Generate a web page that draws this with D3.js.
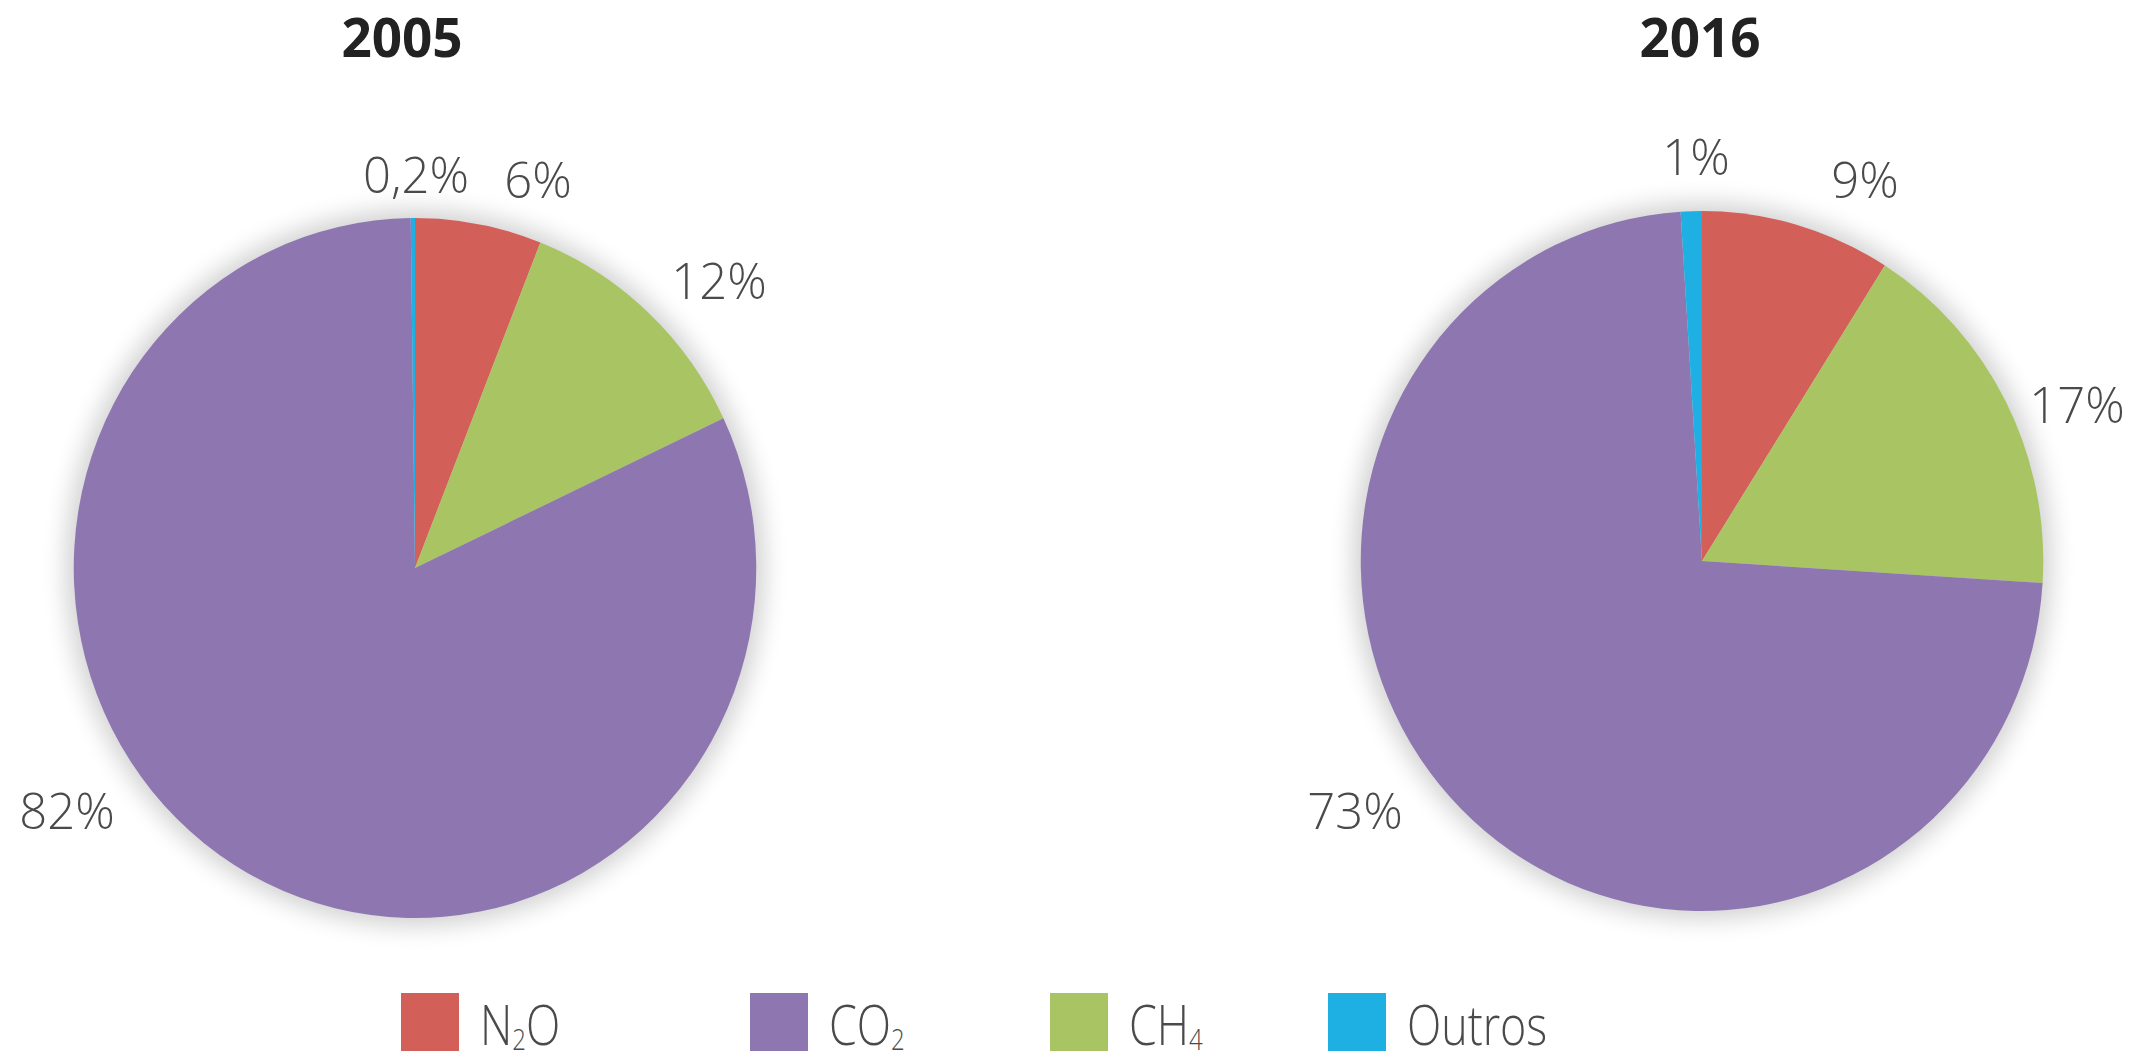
<!DOCTYPE html>
<html>
<head>
<meta charset="utf-8">
<script src="https://cdn.jsdelivr.net/npm/d3@7"></script>
<style>
  html, body { margin: 0; padding: 0; background: #ffffff; }
  svg { display: block; }
</style>
</head>
<body>
<svg id="chart" width="2153" height="1064"></svg>
<script>
// ---------- data ----------
const years = ["2005", "2016"];
const sliceOrder = ["N2O", "CH4", "CO2", "Outros"];       // clockwise from 12 o'clock
const values2005 = [6, 12, 82, 0.2];
const values2016 = [9, 17, 73, 1];
const legendOrder = ["N2O", "CO2", "CH4", "Outros"];
const legendMain = { N2O: ["N", "2", "O"], CO2: ["CO", "2", ""], CH4: ["CH", "4", ""], Outros: ["Outros", "", ""] };
const palette = ["#d35f59", "#a9c463", "#8e77b0", "#1fb0e3"];   // N2O, CH4, CO2, Outros

// ---------- layout ----------
const W = 2153, H = 1064;
const R = 350;
const squashX = 0.975;
const pieCenters = { "2005": [415, 568], "2016": [1702, 561] };
const titlePos = { "2005": [402, 57], "2016": [1700, 57] };
// label offsets relative to pie centre (layout only)
const labelOffsets = {
  "2005": { N2O: [123, -388], CH4: [304, -287], CO2: [-348, 243], Outros: [1, -393] },
  "2016": { N2O: [163, -381], CH4: [375, -156], CO2: [-347, 250], Outros: [-6, -404] }
};
const legendX = { N2O: 401, CO2: 750, CH4: 1050, Outros: 1328 };
const legendY = 993, sq = 58;

const color = d3.scaleOrdinal().domain(sliceOrder).range(palette);
const fmt = v => String(v).replace(".", ",") + "%";

const svg = d3.select("#chart");
svg.append("rect").attr("width", W).attr("height", H).attr("fill", "#fff");

const defs = svg.append("defs");
const f = defs.append("filter").attr("id", "halo")
  .attr("x", "-20%").attr("y", "-20%").attr("width", "140%").attr("height", "140%");
f.append("feGaussianBlur").attr("stdDeviation", 12);

const pie = d3.pie().sort(null).value(d => d.value);
const arc = d3.arc().innerRadius(0).outerRadius(R);

const seriesByYear = { "2005": values2005, "2016": values2016 };

years.forEach(year => {
  const vals = seriesByYear[year];
  const data = sliceOrder.map((k, i) => ({ key: k, value: vals[i] }));
  const [cx, cy] = pieCenters[year];

  const g = svg.append("g").attr("transform", `translate(${cx},${cy})`);

  // soft shadow halo
  g.append("ellipse")
    .attr("rx", R * squashX + 8).attr("ry", R + 8)
    .attr("fill", "#000").attr("opacity", 0.18)
    .attr("filter", "url(#halo)");

  const pg = g.append("g").attr("transform", `scale(${squashX},1)`);
  pg.selectAll("path")
    .data(pie(data))
    .join("path")
    .attr("d", arc)
    .attr("fill", d => color(d.data.key));

  // labels
  g.selectAll("text.lbl")
    .data(data)
    .join("text")
    .attr("class", "lbl")
    .attr("x", d => labelOffsets[year][d.key][0])
    .attr("y", d => labelOffsets[year][d.key][1])
    .attr("dy", "0.36em")
    .attr("text-anchor", "middle")
    .attr("font-family", "'Open Sans', sans-serif")
    .attr("font-weight", 300)
    .attr("font-size", 49)
    .attr("fill", "#4a4a4a")
    .text(d => fmt(d.value));

  // title
  svg.append("text")
    .attr("x", titlePos[year][0]).attr("y", titlePos[year][1])
    .attr("text-anchor", "middle")
    .attr("font-family", "'Open Sans', sans-serif")
    .attr("font-weight", 700)
    .attr("font-size", 53)
    .attr("fill", "#222")
    .text(year);
});

// ---------- legend ----------
const lg = svg.append("g");
legendOrder.forEach(k => {
  const x = legendX[k];
  lg.append("rect")
    .attr("x", x).attr("y", legendY)
    .attr("width", sq).attr("height", sq)
    .attr("fill", color(k));
  const t = lg.append("g")
    .attr("transform", `translate(${x + sq + 21},${legendY + 52}) scale(0.8,1)`)
    .append("text")
    .attr("font-family", "'Open Sans', sans-serif")
    .attr("font-weight", 300)
    .attr("font-size", 56)
    .attr("fill", "#4a4a4a");
  const parts = legendMain[k];
  t.append("tspan").text(parts[0]);
  if (parts[1]) {
    t.append("tspan").attr("font-size", 30).attr("dy", 5).text(parts[1]);
    if (parts[2]) t.append("tspan").attr("dy", -5).text(parts[2]);
  }
});
</script>
</body>
</html>
